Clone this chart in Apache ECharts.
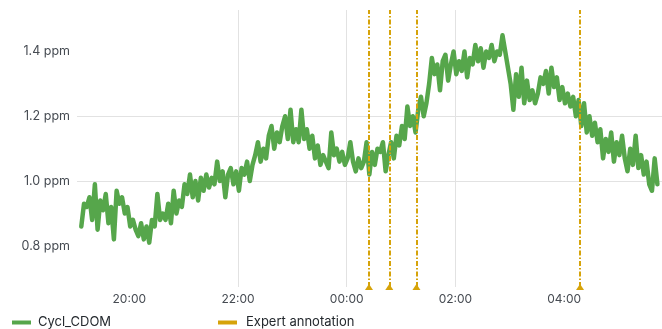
<!DOCTYPE html>
<html><head><meta charset="utf-8">
<script src="https://cdn.jsdelivr.net/npm/echarts@6/dist/echarts.min.js"></script>
<style>html,body{margin:0;padding:0;background:#fff}#c{width:662px;height:329px}</style>
</head><body><div id="c"></div>
<script>
const seriesName = 'Cycl_CDOM';
const annotationName = 'Expert annotation';
const startTime = '2023-01-01T19:07:00';
const stepMinutes = 3;
const cdomValues = [
  0.86, 0.93, 0.92, 0.95, 0.88, 0.99, 0.85, 0.94, 0.91, 0.96,
  0.87, 0.92, 0.82, 0.97, 0.93, 0.95, 0.90, 0.92, 0.86, 0.88,
  0.85, 0.83, 0.87, 0.82, 0.86, 0.81, 0.88, 0.86, 0.96, 0.88,
  0.90, 0.88, 0.93, 0.87, 0.97, 0.90, 0.94, 0.92, 0.99, 0.96,
  1.02, 0.95, 1.00, 0.94, 1.01, 0.97, 1.02, 0.98, 1.01, 0.99,
  1.06, 1.00, 1.03, 0.95, 1.02, 1.04, 0.99, 1.03, 0.97, 1.04,
  1.02, 1.06, 1.00, 1.05, 1.08, 1.12, 1.06, 1.10, 1.07, 1.14,
  1.17, 1.10, 1.15, 1.12, 1.17, 1.20, 1.13, 1.22, 1.12, 1.16,
  1.12, 1.22, 1.13, 1.16, 1.10, 1.14, 1.07, 1.11, 1.05, 1.08,
  1.06, 1.04, 1.15, 1.08, 1.10, 1.06, 1.09, 1.05, 1.07, 1.12,
  1.06, 1.03, 1.07, 1.04, 1.06, 1.12, 1.02, 1.09, 1.05, 1.10,
  1.09, 1.12, 1.03, 1.08, 1.12, 1.07, 1.14, 1.11, 1.17, 1.13,
  1.23, 1.17, 1.20, 1.15, 1.22, 1.26, 1.20, 1.24, 1.30, 1.38,
  1.33, 1.36, 1.28, 1.37, 1.39, 1.31, 1.36, 1.40, 1.33, 1.37,
  1.34, 1.40, 1.32, 1.38, 1.36, 1.42, 1.37, 1.41, 1.35, 1.40,
  1.38, 1.42, 1.37, 1.40, 1.39, 1.45, 1.40, 1.35, 1.30, 1.22,
  1.33, 1.26, 1.35, 1.24, 1.31, 1.25, 1.28, 1.24, 1.27, 1.32,
  1.30, 1.34, 1.27, 1.35, 1.29, 1.32, 1.25, 1.29, 1.24, 1.27,
  1.23, 1.26, 1.20, 1.25, 1.17, 1.24, 1.15, 1.20, 1.14, 1.18,
  1.12, 1.16, 1.07, 1.13, 1.09, 1.15, 1.06, 1.12, 1.08, 1.14,
  1.07, 1.03, 1.10, 1.05, 1.14, 1.04, 1.08, 1.02, 1.06, 0.99,
  0.97, 1.07, 0.99
];
const annotationTimes = ['2023-01-02T00:24:36', '2023-01-02T00:47:00', '2023-01-02T01:17:00', '2023-01-02T04:17:36'];
const xTickTimes = ['2023-01-01T20:00:00', '2023-01-01T22:00:00', '2023-01-02T00:00:00', '2023-01-02T02:00:00', '2023-01-02T04:00:00'];
const yTickValues = [0.8, 1.0, 1.2, 1.4];
const xRange = ['2023-01-01T19:02:16', '2023-01-02T05:48:05'];
const yRange = [0.673, 1.528];

const t0 = new Date(startTime).getTime();
const cdomData = cdomValues.map((v, i) => [t0 + i * stepMinutes * 60000, v]);
const xTicks = xTickTimes.map(t => new Date(t).getTime());
const pad = n => (n < 10 ? '0' : '') + n;
const labelColor = '#464b52';
const gridColor = '#e2e2e2';
const annColor = '#d6a30a';
const font = 'Inter';

const chart = echarts.init(document.getElementById('c'), null, {renderer: 'canvas'});
chart.setOption({
  animation: false,
  textStyle: {fontFamily: font},
  grid: {left: 77, right: 0, top: 10, bottom: 42, containLabel: false},
  legend: [
    {left: 12, top: 316, padding: 0, data: [seriesName], icon: 'rect', itemWidth: 19, itemHeight: 4,
     textStyle: {fontFamily: font, fontSize: 13, color: '#24292e', padding: [0, 0, 0, 2]}},
    {left: 218, top: 316, padding: 0, data: [annotationName], icon: 'rect', itemWidth: 19, itemHeight: 4,
     textStyle: {fontFamily: font, fontSize: 13, color: '#24292e', padding: [0, 0, 0, 4]}}
  ],
  xAxis: {
    type: 'value',
    min: new Date(xRange[0]).getTime(),
    max: new Date(xRange[1]).getTime(),
    axisLine: {show: false},
    axisTick: {show: false, customValues: xTicks},
    axisLabel: {
      customValues: xTicks,
      margin: 6, fontFamily: font, fontSize: 12, color: labelColor,
      formatter: v => { const d = new Date(v); return pad(d.getHours()) + ':' + pad(d.getMinutes()); }
    },
    splitLine: {show: true, showMinLine: false, showMaxLine: false, lineStyle: {color: gridColor, width: 1}}
  },
  yAxis: {
    type: 'value',
    min: yRange[0], max: yRange[1],
    axisLine: {show: false},
    axisTick: {show: false, customValues: yTickValues},
    axisLabel: {
      customValues: yTickValues,
      margin: 7, fontFamily: font, fontSize: 12.5, color: labelColor,
      formatter: v => v.toFixed(1) + ' ppm'
    },
    splitLine: {show: true, showMinLine: false, showMaxLine: false, lineStyle: {color: gridColor, width: 1}}
  },
  series: [
    {
      name: seriesName, type: 'line', data: cdomData, showSymbol: false, symbol: 'none',
      color: '#56a64b', lineStyle: {width: 4.5, color: '#56a64b', join: 'round', cap: 'round'},
      z: 2
    },
    {
      name: annotationName, type: 'line', data: [], color: annColor,
      itemStyle: {color: annColor}, lineStyle: {color: annColor},
      z: 3,
      markLine: {
        silent: true, animation: false,
        symbol: ['triangle', 'none'], symbolSize: [8, 6], symbolRotate: 0,
        label: {show: false},
        lineStyle: {color: annColor, width: 2, type: [5, 2, 1.5, 2], opacity: 1},
        emphasis: {disabled: true},
        data: annotationTimes.map(t => ({xAxis: new Date(t).getTime()}))
      }
    }
  ]
});
</script>
</body></html>
